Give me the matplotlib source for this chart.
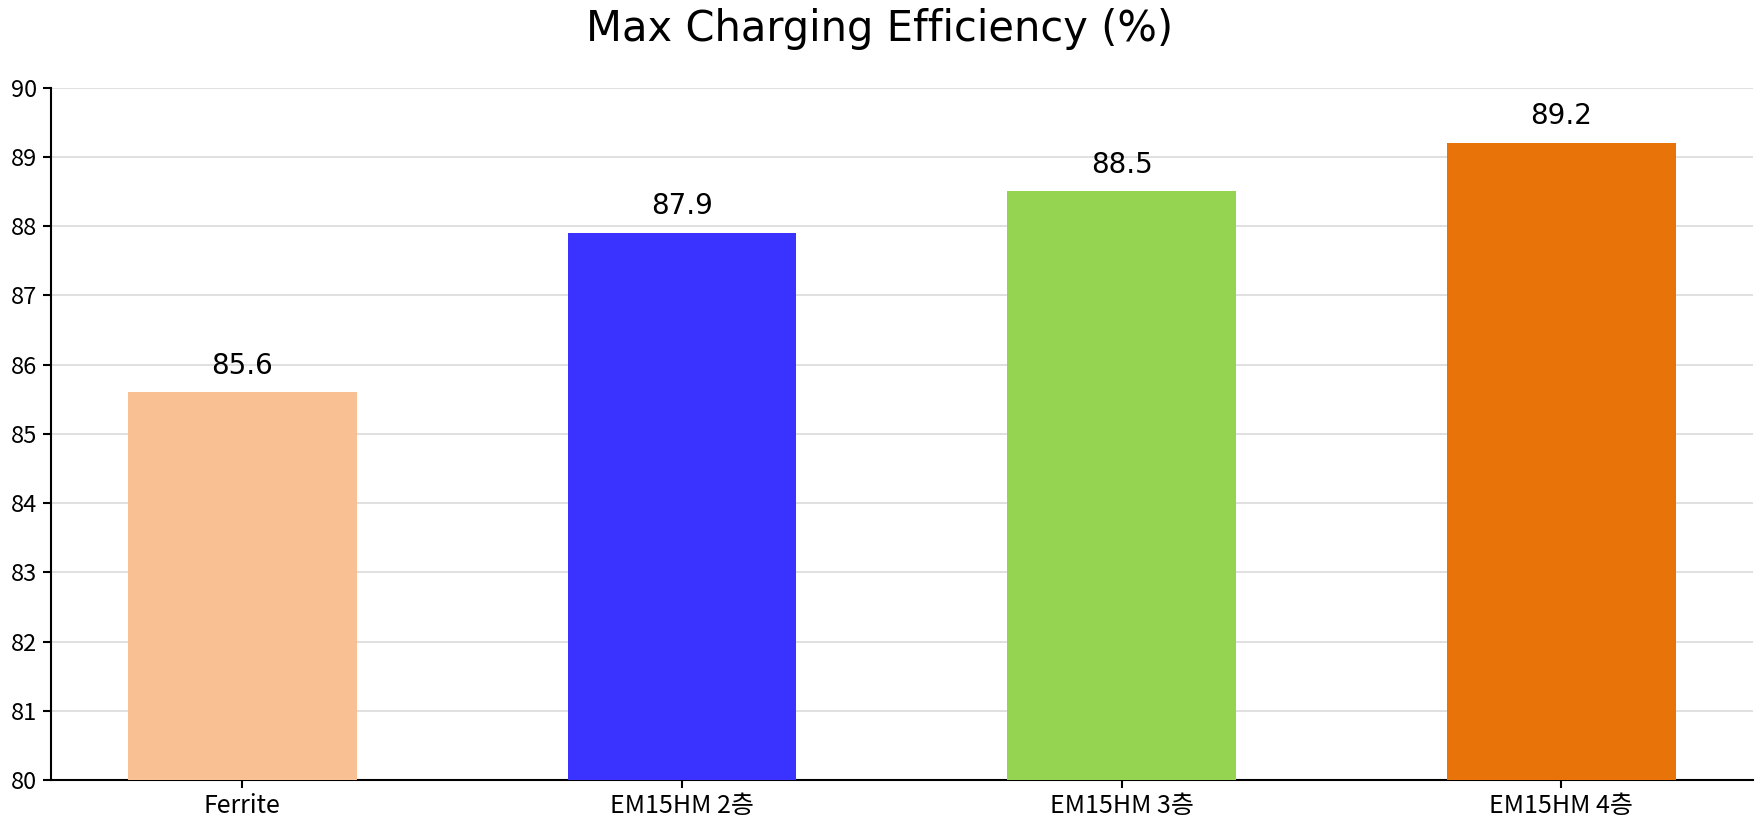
import matplotlib
matplotlib.use("Agg")
import matplotlib.pyplot as plt
import numpy as np

# ── Data ────────────────────────────────────────────────────────────────
categories = ["Ferrite", "EM15HM 2층", "EM15HM 3층", "EM15HM 4층"]
efficiency = [85.6, 87.9, 88.5, 89.2]
bar_colours = ["#F8C093", "#3A32FF", "#94D451", "#E87409"]
y_ticks = list(range(80, 91))

plt.rcParams["font.family"] = ["DejaVu Sans"]
CJK = ["Noto Sans CJK KR", "DejaVu Sans"]

fig = plt.figure(figsize=(17.6, 8.32), dpi=100)
ax = fig.add_axes([0.0287, 0.0625, 0.9673, 0.8323])

x = np.arange(len(categories))
bars = ax.bar(x, efficiency, width=0.52, color=bar_colours, zorder=3)

ax.set_ylim(80, 90)
ax.set_yticks(y_ticks)
ax.set_xticks(x)
ax.set_xticklabels(categories, fontsize=18, family=CJK)
for lbl in ax.get_yticklabels():
    lbl.set_fontsize(17)
    lbl.set_family(CJK)

ax.grid(axis="y", color="#dddddd", linewidth=1.3, zorder=0)
ax.set_axisbelow(True)
for side in ["top", "right"]:
    ax.spines[side].set_visible(False)
for side in ["left", "bottom"]:
    ax.spines[side].set_linewidth(1.5)
ax.tick_params(width=1.5, length=6)

for bar, val in zip(bars, efficiency):
    ax.annotate(f"{val:.1f}", (bar.get_x() + bar.get_width() / 2, val),
                xytext=(0, 9), textcoords="offset points",
                ha="center", va="bottom", fontsize=20)

fig.suptitle("Max Charging Efficiency (%)", fontsize=30, y=0.99, va="top")

fig.savefig("out.png", dpi=100)
